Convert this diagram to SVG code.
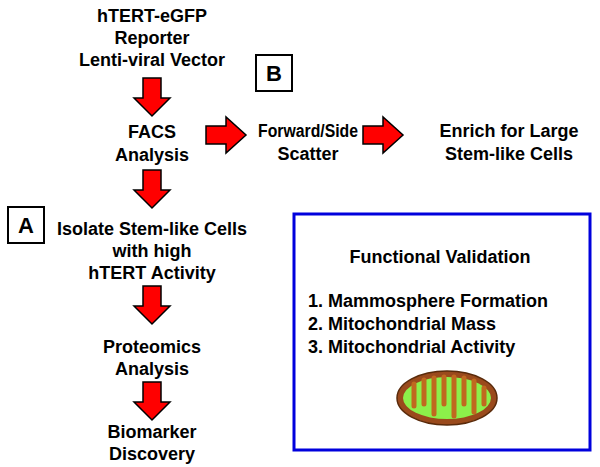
<svg xmlns="http://www.w3.org/2000/svg" width="600" height="467" viewBox="0 0 600 467">
<style>
text{font-family:"Liberation Sans",Arial,sans-serif;font-weight:bold;font-size:18px;fill:#000;text-anchor:middle}
.arr{fill:#ff0000;stroke:#000;stroke-width:1.5;stroke-linejoin:miter}
.lbl{font-size:22px}
</style>
<defs>
<path id="down" class="arr" d="M-9,0 H9 V20 H18 L0,38 L-18,20 H-9 Z"/>
<path id="right" class="arr" d="M0,-9 V9 H20 V18 L40,0 L20,-18 V-9 Z"/>
</defs>
<rect width="600" height="467" fill="#fff"/>
<g id="n1"><text x="152" y="22">hTERT-eGFP</text><text x="152" y="44">Reporter</text><text x="152" y="66">Lenti-viral Vector</text></g>
<g id="n2"><text x="152" y="138">FACS</text><text x="152" y="161">Analysis</text></g>
<g id="n3"><text x="308" y="137" textLength="100" lengthAdjust="spacingAndGlyphs">Forward/Side</text><text x="308" y="160">Scatter</text></g>
<g id="n4"><text x="509" y="137">Enrich for Large</text><text x="509" y="160">Stem-like Cells</text></g>
<g id="n5"><text x="152" y="235">Isolate Stem-like Cells</text><text x="152" y="257">with high</text><text x="152" y="279">hTERT Activity</text></g>
<g id="n6"><text x="152" y="353">Proteomics</text><text x="152" y="375">Analysis</text></g>
<g id="n7"><text x="152" y="438">Biomarker</text><text x="152" y="460">Discovery</text></g>
<g id="labelA"><rect x="8" y="207" width="36" height="36" fill="#fff" stroke="#000" stroke-width="2"/><text class="lbl" x="26" y="233">A</text></g>
<g id="labelB"><rect x="256" y="55" width="36" height="36" fill="#fff" stroke="#000" stroke-width="2"/><text class="lbl" x="274" y="81">B</text></g>
<g id="validation">
<rect x="294" y="214" width="296" height="236" fill="#fff" stroke="#0000dd" stroke-width="3"/>
<text x="440" y="263">Functional Validation</text>
<text x="308" y="307" style="text-anchor:start">1.  Mammosphere Formation</text>
<text x="308" y="330" style="text-anchor:start">2.  Mitochondrial Mass</text>
<text x="308" y="353" style="text-anchor:start">3.  Mitochondrial Activity</text>
<g id="mito">
<ellipse cx="447" cy="398" rx="50" ry="27" fill="#9a4a1c" stroke="#5a2a0a" stroke-width="1.5"/>
<ellipse cx="447" cy="398" rx="44" ry="21" fill="#8cf04a"/>
<path d="M414,384 L414,406 M424,380 L424,404 M434,378 L434,414 M444,377 L444,404 M454,377 L454,416 M464,378 L464,404 M474,381 L474,412 M484,388 L484,404" fill="none" stroke="#c0691f" stroke-width="5" stroke-linecap="round"/>
</g>
</g>
<g id="connectors">
<use href="#down" x="152" y="78"/>
<use href="#down" x="152" y="170"/>
<use href="#down" x="152" y="286"/>
<use href="#down" x="152" y="382"/>
<use href="#right" x="206" y="135"/>
<use href="#right" x="363" y="135"/>
</g>
</svg>
